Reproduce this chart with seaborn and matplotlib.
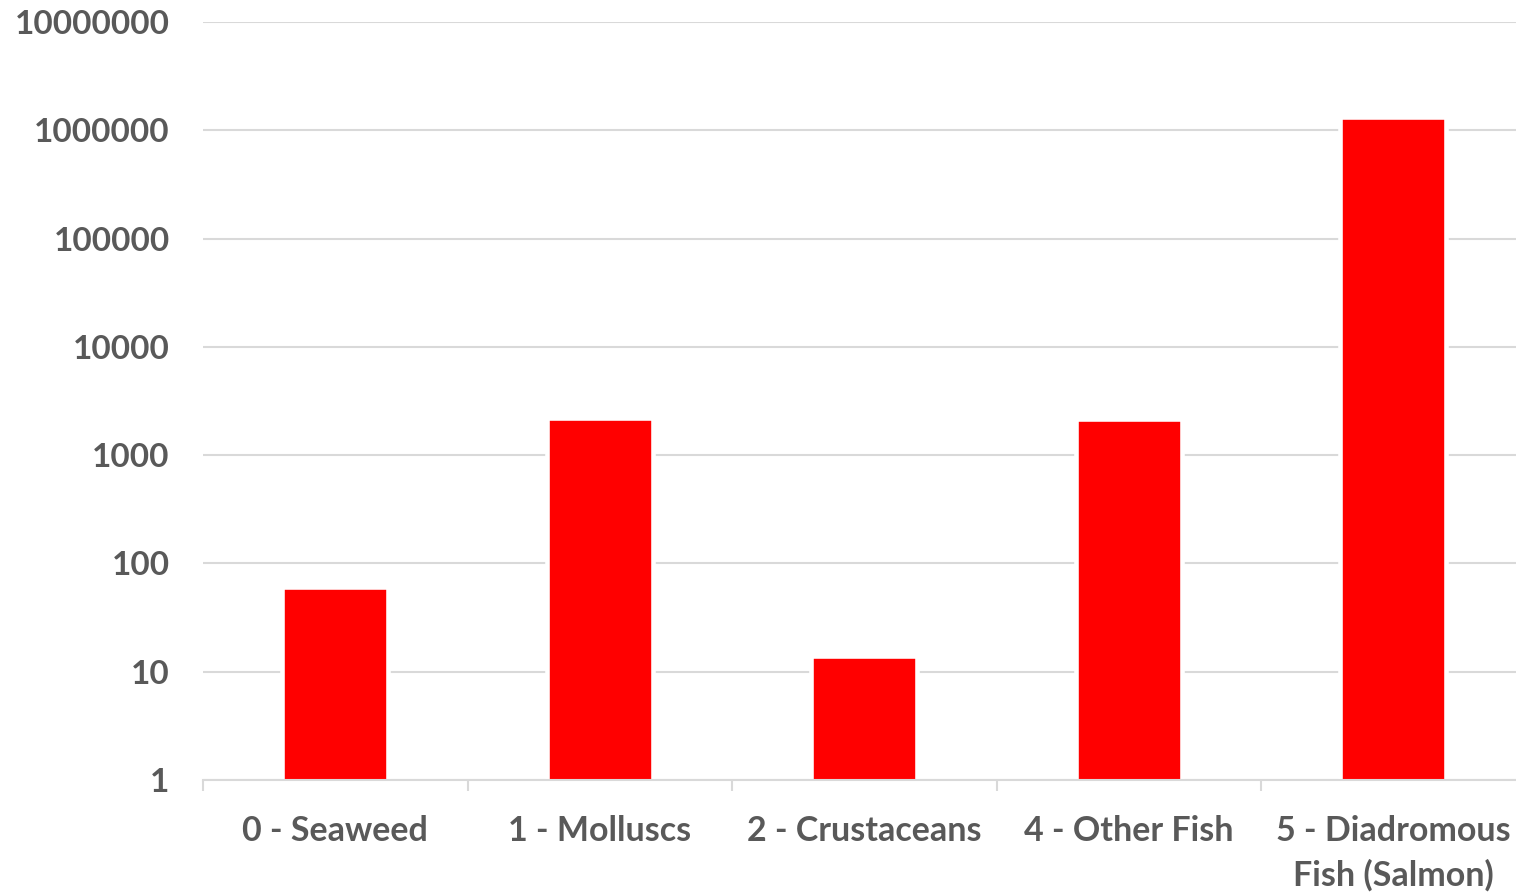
import matplotlib
matplotlib.use("Agg")
import matplotlib.pyplot as plt
import matplotlib.ticker as mticker
import numpy as np
import pandas as pd
import seaborn as sns

# Aquaculture production by species group (log scale)
categories = ["0 - Seaweed", "1 - Molluscs", "2 - Crustaceans", "4 - Other Fish",
              "5 - Diadromous\nFish (Salmon)"]
values = [60, 2200, 14.1, 2150, 1320000]
ytick_values = [1, 10, 100, 1000, 10000, 100000, 1000000, 10000000]

sns.set_theme(style="white")
plt.rcParams["font.family"] = ["Lato", "DejaVu Sans"]

TEXT = "#595959"
GRID = "#d9d9d9"

fig = plt.figure(figsize=(15.16, 8.92), dpi=100)
# plot area runs slightly past the right edge of the canvas
ax = fig.add_axes([0.1339, 0.1256, 0.8724, 0.8497])
ax.set_yscale("log")

df = pd.DataFrame({"group": categories, "value": values})
sns.barplot(data=df, x="group", y="value", color="#ff0000", saturation=1,
            width=0.40, edgecolor="white", linewidth=3.3, ax=ax, zorder=3)

ax.set_ylim(1, 1e7)
ax.set_xlim(-0.5, len(categories) - 0.5)

# y axis: decades as plain integers
ax.yaxis.set_major_locator(mticker.FixedLocator(ytick_values))
ax.yaxis.set_major_formatter(mticker.FuncFormatter(lambda v, p: f"{int(round(v))}"))
ax.yaxis.set_minor_locator(mticker.NullLocator())
ax.grid(axis="y", color=GRID, linewidth=1.5, zorder=0)
ax.set_axisbelow(True)
ax.tick_params(axis="y", length=0, pad=24, labelsize=24, labelcolor=TEXT)
for lab in ax.get_yticklabels():
    lab.set_fontweight("bold")

# x axis: category labels with boundary tick marks
ax.xaxis.set_minor_locator(mticker.FixedLocator(np.arange(-0.5, len(categories), 1.0)))
ax.tick_params(axis="x", which="major", length=0, pad=25, labelsize=24.5, labelcolor=TEXT)
ax.tick_params(axis="x", which="minor", length=8, width=1.5, color=GRID, bottom=True,
               direction="out")
for lab in ax.get_xticklabels():
    lab.set_fontweight("bold")
    lab.set_linespacing(1.45)

ax.set_xlabel("")
ax.set_ylabel("")
for side in ["top", "right", "left"]:
    ax.spines[side].set_visible(False)
ax.spines["bottom"].set_color(GRID)
ax.spines["bottom"].set_linewidth(1.5)
ax.spines["bottom"].set_zorder(4)

fig.savefig("out.png", dpi=100, facecolor="white")
